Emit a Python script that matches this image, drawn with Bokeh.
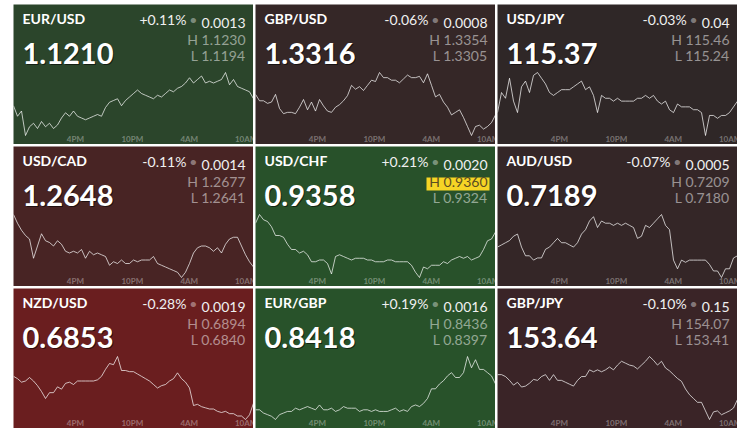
from bokeh.plotting import figure
from bokeh.models import Label, LabelSet, ColumnDataSource, Range1d, GridBox, BoxAnnotation
from bokeh.core.properties import value
from bokeh.embed import file_html
from bokeh.resources import INLINE
import numpy as np

# ---------------- data ----------------
pairs = ["EUR/USD", "GBP/USD", "USD/JPY", "USD/CAD", "USD/CHF", "AUD/USD", "NZD/USD", "EUR/GBP", "GBP/JPY"]
last_prices = ["1.1210", "1.3316", "115.37", "1.2648", "0.9358", "0.7189", "0.6853", "0.8418", "153.64"]
change_pct = ["+0.11%", "-0.06%", "-0.03%", "-0.11%", "+0.21%", "-0.07%", "-0.28%", "+0.19%", "-0.10%"]
change_abs = ["0.0013", "0.0008", "0.04", "0.0014", "0.0020", "0.0005", "0.0019", "0.0016", "0.15"]
day_high = ["1.1230", "1.3354", "115.46", "1.2677", "0.9360", "0.7209", "0.6894", "0.8436", "154.07"]
day_low = ["1.1194", "1.3305", "115.24", "1.2641", "0.9324", "0.7180", "0.6840", "0.8397", "153.41"]
high_flag = [False, False, False, False, True, False, False, False, False]
tile_colors = ["#2b452b", "#352727", "#2f2727", "#482424", "#28512a", "#342627", "#6a1e1f", "#28522a", "#3a2427"]

tick_hours = [16, 22, 28, 34]
tick_labels = ["4PM", "10PM", "4AM", "10AM"]
T_START, T_END = 9.47, 34.77

eur_usd = [1.1211, 1.1205, 1.1208, 1.1194, 1.1199, 1.1201, 1.1198, 1.1202, 1.1199, 1.1201,
           1.1198, 1.1200, 1.1204, 1.1207, 1.1205, 1.1208, 1.1205, 1.1204, 1.1203, 1.1204,
           1.1205, 1.1206, 1.1205, 1.1210, 1.1213, 1.1214, 1.1215, 1.1211, 1.1214, 1.1216,
           1.1218, 1.1220, 1.1218, 1.1217, 1.1216, 1.1215, 1.1217, 1.1216, 1.1218, 1.1220,
           1.1219, 1.1221, 1.1222, 1.1224, 1.1227, 1.1224, 1.1226, 1.1228, 1.1224, 1.1225,
           1.1224, 1.1225, 1.1226, 1.1230, 1.1223, 1.1226, 1.1222, 1.1221, 1.1220, 1.1219,
           1.1215]
gbp_usd = [1.3337, 1.3332, 1.3332, 1.3330, 1.3331, 1.3337, 1.3326, 1.3322, 1.3323, 1.3323,
           1.3322, 1.3327, 1.3333, 1.3325, 1.3331, 1.3324, 1.3333, 1.3328, 1.3324, 1.3323,
           1.3327, 1.3329, 1.3332, 1.3336, 1.3344, 1.3341, 1.3343, 1.3340, 1.3344, 1.3348,
           1.3347, 1.3354, 1.3350, 1.3350, 1.3348, 1.3348, 1.3346, 1.3349, 1.3352, 1.3350,
           1.3350, 1.3351, 1.3346, 1.3353, 1.3344, 1.3335, 1.3337, 1.3331, 1.3327, 1.3321,
           1.3323, 1.3325, 1.3319, 1.3312, 1.3305, 1.3312, 1.3313, 1.3310, 1.3312, 1.3315,
           1.3321]
usd_jpy = [115.32, 115.39, 115.37, 115.44, 115.36, 115.32, 115.41, 115.43, 115.39, 115.45,
           115.46, 115.44, 115.42, 115.39, 115.38, 115.39, 115.40, 115.40, 115.40, 115.41,
           115.42, 115.43, 115.40, 115.41, 115.38, 115.32, 115.38, 115.37, 115.37, 115.36,
           115.37, 115.36, 115.36, 115.36, 115.36, 115.37, 115.37, 115.38, 115.37, 115.38,
           115.36, 115.35, 115.36, 115.33, 115.32, 115.35, 115.34, 115.34, 115.34, 115.33,
           115.33, 115.32, 115.24, 115.31, 115.31, 115.30, 115.31, 115.31, 115.32, 115.34,
           115.36]
usd_cad = [1.2677, 1.2672, 1.2668, 1.2665, 1.2663, 1.2652, 1.2659, 1.2666, 1.2662, 1.2661,
           1.2659, 1.2662, 1.2660, 1.2656, 1.2655, 1.2656, 1.2655, 1.2657, 1.2652, 1.2656,
           1.2654, 1.2655, 1.2654, 1.2653, 1.2648, 1.2650, 1.2649, 1.2651, 1.2649, 1.2649,
           1.2651, 1.2650, 1.2651, 1.2651, 1.2651, 1.2653, 1.2649, 1.2648, 1.2647, 1.2646,
           1.2645, 1.2644, 1.2641, 1.2644, 1.2649, 1.2655, 1.2658, 1.2659, 1.2659, 1.2658,
           1.2656, 1.2658, 1.2655, 1.2660, 1.2663, 1.2664, 1.2664, 1.2659, 1.2654, 1.2650,
           1.2647]
usd_chf = [0.9355, 0.9360, 0.9357, 0.9356, 0.9353, 0.9348, 0.9348, 0.9347, 0.9343, 0.9340,
           0.9340, 0.9338, 0.9339, 0.9337, 0.9333, 0.9333, 0.9334, 0.9334, 0.9332, 0.9326,
           0.9336, 0.9337, 0.9336, 0.9335, 0.9334, 0.9335, 0.9335, 0.9335, 0.9334, 0.9334,
           0.9333, 0.9333, 0.9333, 0.9334, 0.9334, 0.9333, 0.9333, 0.9333, 0.9333, 0.9331,
           0.9327, 0.9324, 0.9330, 0.9329, 0.9331, 0.9331, 0.9331, 0.9333, 0.9332, 0.9334,
           0.9335, 0.9336, 0.9335, 0.9336, 0.9334, 0.9335, 0.9336, 0.9340, 0.9345, 0.9346,
           0.9350]
aud_usd = [0.7194, 0.7195, 0.7196, 0.7197, 0.7199, 0.7200, 0.7194, 0.7190, 0.7190, 0.7188,
           0.7189, 0.7189, 0.7193, 0.7194, 0.7196, 0.7198, 0.7196, 0.7196, 0.7195, 0.7194,
           0.7196, 0.7200, 0.7202, 0.7206, 0.7208, 0.7203, 0.7206, 0.7205, 0.7205, 0.7204,
           0.7205, 0.7204, 0.7205, 0.7204, 0.7203, 0.7198, 0.7199, 0.7204, 0.7203, 0.7205,
           0.7207, 0.7209, 0.7204, 0.7202, 0.7188, 0.7184, 0.7188, 0.7187, 0.7188, 0.7188,
           0.7188, 0.7188, 0.7188, 0.7186, 0.7183, 0.7183, 0.7180, 0.7184, 0.7184, 0.7189,
           0.7190]
nzd_usd = [0.6877, 0.6875, 0.6872, 0.6873, 0.6876, 0.6873, 0.6869, 0.6864, 0.6858, 0.6863,
           0.6863, 0.6868, 0.6866, 0.6871, 0.6872, 0.6870, 0.6873, 0.6873, 0.6873, 0.6873,
           0.6873, 0.6874, 0.6877, 0.6883, 0.6888, 0.6887, 0.6894, 0.6882, 0.6882, 0.6881,
           0.6881, 0.6879, 0.6877, 0.6875, 0.6873, 0.6870, 0.6867, 0.6869, 0.6870, 0.6873,
           0.6875, 0.6880, 0.6875, 0.6872, 0.6867, 0.6852, 0.6853, 0.6851, 0.6850, 0.6849,
           0.6849, 0.6847, 0.6846, 0.6847, 0.6845, 0.6845, 0.6843, 0.6843, 0.6840, 0.6844,
           0.6854]
eur_gbp = [0.8403, 0.8403, 0.8401, 0.8400, 0.8399, 0.8397, 0.8400, 0.8401, 0.8402, 0.8402,
           0.8404, 0.8403, 0.8404, 0.8405, 0.8404, 0.8403, 0.8406, 0.8403, 0.8403, 0.8404,
           0.8402, 0.8403, 0.8405, 0.8404, 0.8404, 0.8404, 0.8402, 0.8403, 0.8403, 0.8402,
           0.8403, 0.8402, 0.8402, 0.8402, 0.8403, 0.8404, 0.8402, 0.8403, 0.8402, 0.8405,
           0.8406, 0.8405, 0.8407, 0.8410, 0.8416, 0.8416, 0.8419, 0.8421, 0.8424, 0.8426,
           0.8423, 0.8423, 0.8426, 0.8436, 0.8429, 0.8434, 0.8428, 0.8428, 0.8426, 0.8424,
           0.8419]
gbp_jpy = [153.88, 153.88, 153.86, 153.82, 153.77, 153.80, 153.75, 153.76, 153.79, 153.83,
           153.82, 153.86, 153.88, 153.82, 153.88, 153.82, 153.82, 153.80, 153.78, 153.76,
           153.82, 153.86, 153.86, 153.93, 153.91, 153.93, 153.91, 153.93, 153.96, 153.93,
           153.98, 154.02, 154.00, 153.98, 153.97, 153.94, 153.98, 154.02, 154.07, 154.03,
           153.98, 154.02, 153.95, 153.92, 153.88, 153.84, 153.81, 153.73, 153.67, 153.63,
           153.59, 153.59, 153.50, 153.41, 153.49, 153.50, 153.46, 153.48, 153.50, 153.53,
           153.62]

series = [eur_usd, gbp_usd, usd_jpy, usd_cad, usd_chf, aud_usd, nzd_usd, eur_gbp, gbp_jpy]

# ---------------- layout/style ----------------
W, H = 240, 140
FONT = "Lato"
CW = {"0": .58, "1": .58, "2": .58, "3": .58, "4": .58, "5": .58, "6": .58, "7": .58,
      "8": .58, "9": .58, ".": .25, "%": .8, "+": .58, "-": .36, " ": .19}


def est_w(s, fs):
    return sum(CW.get(c, .58) for c in s) * fs


def tile(i):
    vals = series[i]
    t = np.linspace(T_START, T_END, len(vals))
    vmin, vmax = min(vals), max(vals)
    span = vmax - vmin
    p = figure(width=W, height=H, output_backend="svg", toolbar_location=None, tools="",
               x_axis_location=None, y_axis_location=None, min_border=0,
               x_range=Range1d(T_START, T_END),
               y_range=Range1d(vmin - span * 9 / 63, vmax + span * 68 / 63))
    p.grid.visible = False
    p.outline_line_color = None
    p.background_fill_color = tile_colors[i]
    p.border_fill_color = tile_colors[i]
    p.line(t, vals, line_color="#ffffff", line_alpha=0.7, line_width=1)

    # pair name
    p.add_layout(Label(x=9, y=H - 22, x_units="screen", y_units="screen", text=pairs[i],
                       text_font=FONT, text_font_size="14px", text_font_style="bold",
                       text_color="#ffffff"))
    # big price with shadow
    p.add_layout(Label(x=10, y=H - 60, x_units="screen", y_units="screen", text=last_prices[i],
                       text_font=FONT, text_font_size="29px", text_font_style="bold",
                       text_color="#000000", text_alpha=0.55))
    p.add_layout(Label(x=9, y=H - 59, x_units="screen", y_units="screen", text=last_prices[i],
                       text_font=FONT, text_font_size="29px", text_font_style="bold",
                       text_color="#ffffff"))
    # change
    wa = est_w(change_abs[i], 14)
    vleft = 232 - wa - 1
    p.add_layout(Label(x=232, y=H - 23, x_units="screen", y_units="screen", text=change_abs[i],
                       text_font=FONT, text_font_size="14px", text_align="right",
                       text_color="#f0f0f0"))
    p.add_layout(Label(x=vleft - 7, y=H - 23, x_units="screen", y_units="screen", text="•",
                       text_font=FONT, text_font_size="14px", text_align="center",
                       text_color="#ffffff", text_alpha=0.4))
    p.add_layout(Label(x=vleft - 14, y=H - 23, x_units="screen", y_units="screen",
                       text=change_pct[i], text_font=FONT, text_font_size="14px",
                       text_align="right", text_color="#f0f0f0"))
    # high / low
    if high_flag[i]:
        p.add_layout(BoxAnnotation(left=171, right=234, bottom=H - 44, top=H - 31,
                                   left_units="screen", right_units="screen",
                                   top_units="screen", bottom_units="screen",
                                   fill_color="#f6d525", fill_alpha=1, line_color=None))
        hc, ha = "#5b4e22", 1.0
    else:
        hc, ha = "#ffffff", 0.5
    p.add_layout(Label(x=232, y=H - 43, x_units="screen", y_units="screen",
                       text="H " + day_high[i], text_font=FONT, text_font_size="14px",
                       text_align="right", text_color=hc, text_alpha=ha))
    p.add_layout(Label(x=232, y=H - 59.5, x_units="screen", y_units="screen",
                       text="L " + day_low[i], text_font=FONT, text_font_size="14px",
                       text_align="right", text_color="#ffffff", text_alpha=0.5))
    # time ticks
    src = ColumnDataSource(dict(x=tick_hours, t=tick_labels))
    p.add_layout(LabelSet(x="x", y=1, y_units="screen", text="t", source=src,
                          text_font=value(FONT), text_font_size=value("8px"),
                          text_font_style=value("bold"),
                          text_align="center", text_baseline="bottom",
                          text_color="#ffffff", text_alpha=0.35))
    return p


figs = [tile(i) for i in range(9)]
grid = GridBox(children=[(figs[i], i // 3, i % 3) for i in range(9)], spacing=2,
               margin=(4, 0, 0, 13))

open("out.html", "w").write(file_html(grid, INLINE))
